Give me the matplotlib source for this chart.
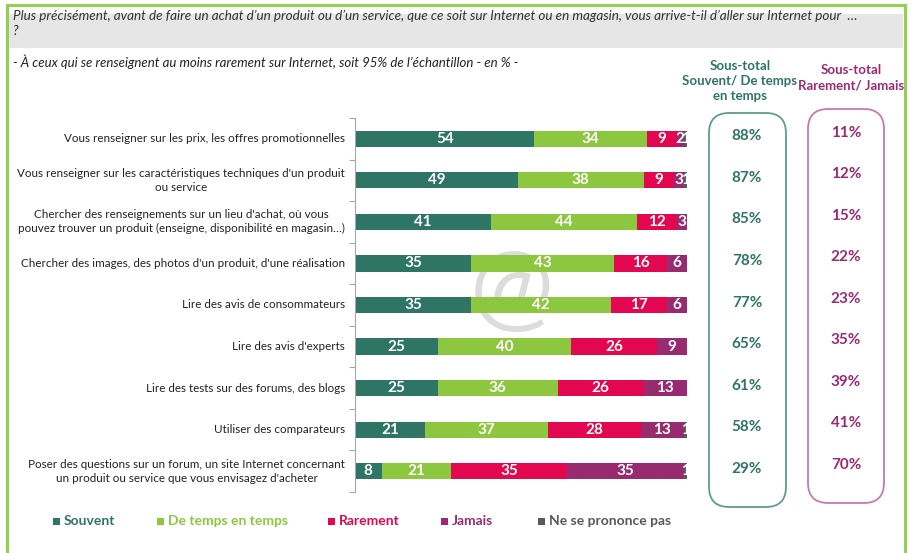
import numpy as np
import matplotlib
matplotlib.use("Agg")
import matplotlib.pyplot as plt
from matplotlib.patches import Rectangle, FancyBboxPatch
from matplotlib import transforms

plt.rcParams['font.family'] = ['Lato', 'DejaVu Sans']

categories = [
    "Vous renseigner sur les prix, les offres promotionnelles",
    "Vous renseigner sur les caractéristiques techniques d'un produit\nou service",
    "Chercher des renseignements sur un lieu d'achat, où vous\npouvez trouver un produit (enseigne, disponibilité en magasin…)",
    "Chercher des images, des photos d'un produit, d'une réalisation",
    "Lire des avis de consommateurs",
    "Lire des avis d'experts",
    "Lire des tests sur des forums, des blogs",
    "Utiliser des comparateurs",
    "Poser des questions sur un forum, un site Internet concernant\nun produit ou service que vous envisagez d'acheter",
]
series_names = ["Souvent", "De temps en temps", "Rarement", "Jamais", "Ne se prononce pas"]
souvent = [54, 49, 41, 35, 35, 25, 25, 21, 8]
de_temps = [34, 38, 44, 43, 42, 40, 36, 37, 21]
rarement = [9, 9, 12, 16, 17, 26, 26, 28, 35]
jamais = [2, 3, 3, 6, 6, 9, 13, 13, 35]
nsp = [1, 1, 0, 0, 0, 0, 0, 1, 1]

title = ("Plus précisément, avant de faire un achat d’un produit ou d’un service, que ce soit sur Internet ou en magasin, "
         "vous arrive-t-il d’aller sur Internet pour  …\n?")
subtitle = "- À ceux qui se renseignent au moins rarement sur Internet, soit 95% de l’échantillon - en % -"
head_pos = "Sous-total\nSouvent/ De temps\nen temps"
head_neg = "Sous-total\nRarement/ Jamais"

colors = ["#2E7566", "#8DC63F", "#E2074F", "#982B70", "#595959"]
c_pos = "#2E7566"
c_neg = "#9B2A75"

W, H = 916, 553
fig = plt.figure(figsize=(W / 100, H / 100), dpi=100)
fig.patch.set_facecolor("white")

def fx(px):
    return px / W

def fy(py):
    return 1 - py / H

# outer border & header band
fig.patches.append(Rectangle((fx(7), fy(560)), fx(905) - fx(7), fy(5) - fy(560),
                             transform=fig.transFigure, fill=False, edgecolor="#92D050", lw=2.2, zorder=5))
fig.patches.append(Rectangle((fx(9), fy(48)), fx(903) - fx(9), fy(14) - fy(48),
                             transform=fig.transFigure, facecolor="#E6E6E6", edgecolor="none", zorder=-2))
fig.text(fx(13), fy(23.5), title, fontsize=9.7, style="italic", color="#333333", va="center", ha="left",
         linespacing=1.35)
fig.text(fx(13), fy(62), subtitle, fontsize=9.5, style="italic", color="#222222", va="center", ha="left")
fig.text(fx(740), fy(81), head_pos, fontsize=9.5, fontweight="bold", color=c_pos, ha="center", va="center",
         linespacing=1.35)
fig.text(fx(851), fy(78), head_neg, fontsize=9.5, fontweight="bold", color=c_neg, ha="center", va="center",
         linespacing=1.35)

# watermark
fig.text(fx(512), fy(292), "@", fontsize=72, fontweight="normal", color="#DCDCDC", ha="center", va="center",
         zorder=-1)

# bars axes
left, right = 355, 687
top, bottom = 118, 492
ax = fig.add_axes([fx(left), fy(bottom), fx(right) - fx(left), fy(top) - fy(bottom)])
ax.set_facecolor("none")
n = len(categories)
y = np.arange(n)
data = [souvent, de_temps, rarement, jamais, nsp]
cum = np.zeros(n)
for vals, col, name in zip(data, colors, series_names):
    vals = np.array(vals, dtype=float)
    ax.barh(y, vals, left=cum, height=0.39, color=col, edgecolor="none", label=name)
    for yi, v, c0 in zip(y, vals, cum):
        if v > 0:
            ax.text(c0 + v / 2, yi, f"{int(v)}", ha="center", va="center", color="white",
                    fontsize=11, fontweight="bold")
    cum += vals
ax.set_xlim(0, 100)
ax.set_ylim(n - 0.5, -0.5)
ax.set_xticks([])
ax.set_yticks(np.arange(-0.5, n, 1))
ax.set_yticklabels([])
ax.tick_params(axis="y", length=4, color="#A6A6A6", width=0.8)
for s in ["top", "right", "bottom"]:
    ax.spines[s].set_visible(False)
ax.spines["left"].set_color("#A6A6A6")
for yi, cat in zip(y, categories):
    ax.text(-3.0, yi, cat, ha="right", va="center", multialignment="center", fontsize=8.4, color="#222222",
            linespacing=1.35)

# totals
tot_pos = np.array(souvent) + np.array(de_temps)
tot_neg = np.array(rarement) + np.array(jamais)
tr = transforms.blended_transform_factory(fig.transFigure, ax.transData)
for yi, a, b in zip(y, tot_pos, tot_neg):
    ax.text(fx(747), yi - 0.06, f"{a}%", transform=tr, ha="center", va="center", fontsize=11,
            fontweight="bold", color=c_pos)
    ax.text(fx(846), yi - 0.15, f"{b}%", transform=tr, ha="center", va="center", fontsize=11,
            fontweight="bold", color=c_neg)

# rounded boxes
def rbox(x0, y0, x1, y1, ec):
    p = FancyBboxPatch((fx(x0), fy(y1)), fx(x1) - fx(x0), fy(y0) - fy(y1),
                       boxstyle="round,pad=0,rounding_size=0.022", transform=fig.transFigure,
                       fill=False, edgecolor=ec, lw=1.3, mutation_aspect=W / H)
    fig.patches.append(p)

rbox(709, 113, 786, 507, "#5E9C8F")
rbox(808, 109, 884, 503, "#C47AAE")

# legend
leg_x = [53, 157, 328, 441, 538]
for lx, name, col in zip(leg_x, series_names, colors):
    fig.patches.append(Rectangle((fx(lx), fy(525)), fx(7) - fx(0), fy(0) - fy(7),
                                 transform=fig.transFigure, facecolor=col, edgecolor="none"))
    fig.text(fx(lx + 11), fy(521), name, fontsize=10, fontweight="bold", color=col, ha="left", va="center")

fig.savefig("out.png", dpi=100, facecolor="white")
